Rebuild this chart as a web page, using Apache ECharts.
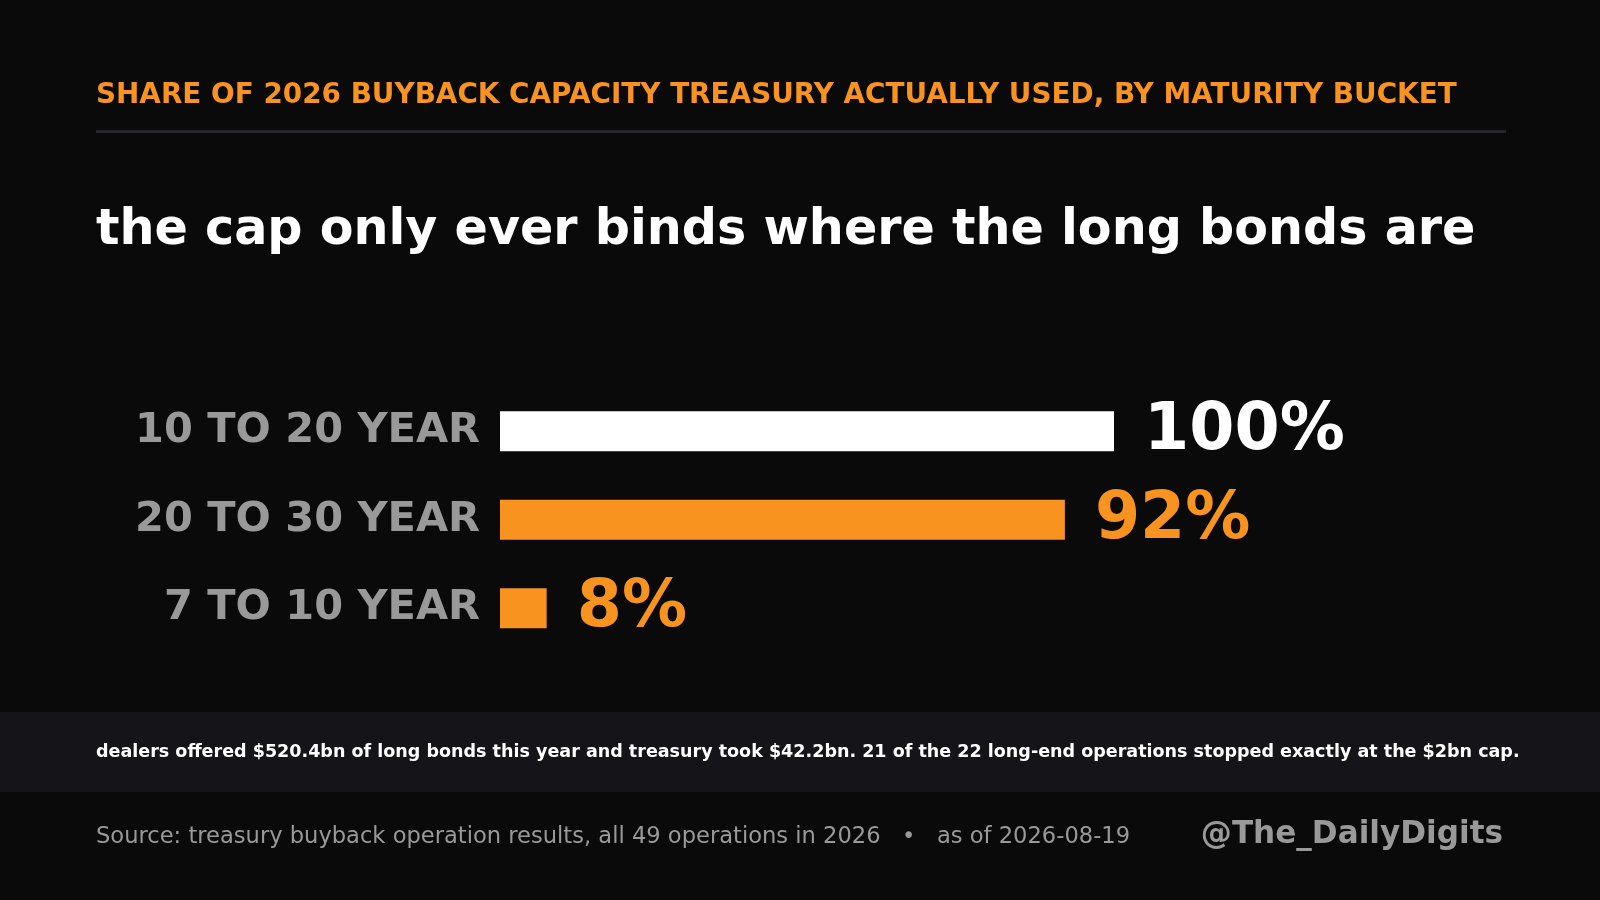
<!DOCTYPE html>
<html>
<head>
<meta charset="utf-8">
<script src="https://cdn.jsdelivr.net/npm/echarts@6/dist/echarts.min.js"></script>
<style>
html,body{margin:0;padding:0;background:#0a0a0a;}
#chart{width:1600px;height:900px;}
</style>
</head>
<body>
<div id="chart"></div>
<script>
const categories = ['10 TO 20 YEAR', '20 TO 30 YEAR', '7 TO 10 YEAR'];
const shareUsed = [100, 92, 7.6];
const highlight = [true, false, false];

const kicker = 'SHARE OF 2026 BUYBACK CAPACITY TREASURY ACTUALLY USED, BY MATURITY BUCKET';
const headline = 'the cap only ever binds where the long bonds are';
const note = 'dealers offered $520.4bn of long bonds this year and treasury took $42.2bn. 21 of the 22 long-end operations stopped exactly at the $2bn cap.';
const source = 'Source: treasury buyback operation results, all 49 operations in 2026   \u2022   as of 2026-08-19';
const handle = '@The_DailyDigits';

const WHITE = '#ffffff', ORANGE = '#f7931e', GRAY = '#999999';
const FONT = '"DejaVu Sans", sans-serif';

const chart = echarts.init(document.getElementById('chart'), null, {renderer: 'canvas'});
chart.setOption({
  backgroundColor: '#0a0a0a',
  animation: false,
  grid: {left: 500, right: 486, top: 387, height: 265.5, containLabel: false},
  xAxis: {type: 'value', min: 0, max: 100, show: false},
  yAxis: {
    type: 'category', data: categories, inverse: true,
    axisLine: {show: false}, axisTick: {show: false}, splitLine: {show: false},
    axisLabel: {color: GRAY, fontFamily: FONT, fontWeight: 'bold', fontSize: 41.5, margin: 20, padding: [0,0,6,0]}
  },
  series: [{
    type: 'bar', barWidth: 40,
    data: shareUsed.map((v, i) => ({
      value: v,
      itemStyle: {color: highlight[i] ? WHITE : ORANGE},
      label: {color: highlight[i] ? WHITE : ORANGE}
    })),
    label: {
      show: true, position: 'right', distance: 30, offset: [0, 1],
      formatter: p => Math.round(p.value) + '%', fontFamily: FONT, fontWeight: 'bold', fontSize: 65
    }
  }],
  graphic: [
    {type: 'rect', shape: {x: 0, y: 712, width: 1600, height: 80}, style: {fill: '#141419'}, z: -1},
    {type: 'rect', shape: {x: 96, y: 130, width: 1410, height: 3}, style: {fill: '#25252b'}},
    {type: 'text', x: 96, y: 96, style: {text: kicker, fill: ORANGE, font: 'bold 27.85px ' + FONT, verticalAlign: 'middle'}},
    {type: 'text', x: 96, y: 231, style: {text: headline, fill: WHITE, font: 'bold 49.2px ' + FONT, verticalAlign: 'middle'}},
    {type: 'text', x: 96, y: 752, style: {text: note, fill: WHITE, font: 'bold 17.55px ' + FONT, verticalAlign: 'middle'}},
    {type: 'text', x: 96, y: 837, style: {text: source, fill: GRAY, font: '22.6px ' + FONT, verticalAlign: 'middle'}},
    {type: 'text', x: 1503, y: 835, style: {text: handle, fill: GRAY, font: 'bold 31.1px ' + FONT, align: 'right', verticalAlign: 'middle'}}
  ]
});
</script>
</body>
</html>
